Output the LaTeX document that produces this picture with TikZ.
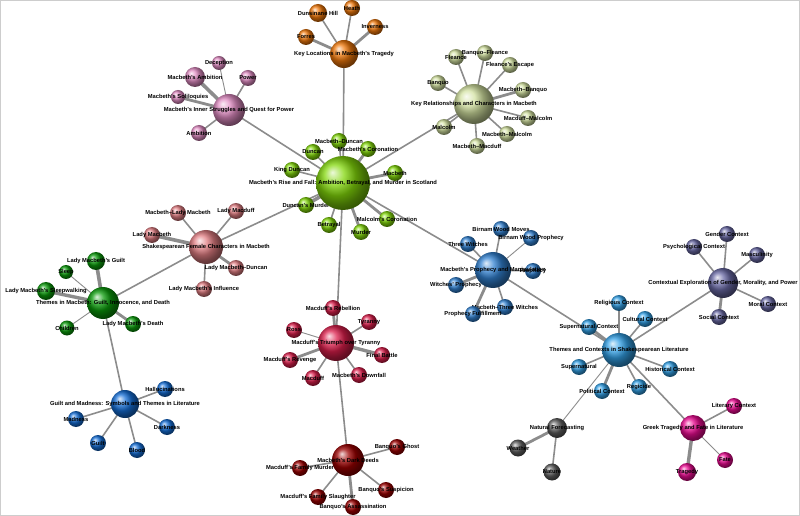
\documentclass[tikz,border=0pt]{standalone}
\usepackage{fontspec}
\setmainfont{Liberation Sans}
\usepackage{tikz}
\usetikzlibrary{backgrounds}
\definecolor{linkgray}{RGB}{140, 140, 140}
\definecolor{framegray}{RGB}{205, 205, 205}
\definecolor{locorange}{RGB}{240, 120, 10}
\definecolor{innerpink}{RGB}{225, 140, 195}
\definecolor{relolive}{RGB}{210, 225, 160}
\definecolor{risegreen}{RGB}{130, 215, 10}
\definecolor{femrose}{RGB}{225, 125, 130}
\definecolor{themegreen}{RGB}{10, 155, 10}
\definecolor{guiltblue}{RGB}{20, 110, 215}
\definecolor{triumphred}{RGB}{220, 30, 75}
\definecolor{deedsred}{RGB}{155, 0, 0}
\definecolor{prophblue}{RGB}{50, 130, 210}
\definecolor{ctxblue}{RGB}{50, 160, 230}
\definecolor{genderpurple}{RGB}{105, 105, 165}
\definecolor{forecastgray}{RGB}{95, 95, 95}
\definecolor{greekmagenta}{RGB}{235, 10, 145}

\begin{document}
\begin{tikzpicture}[x=1bp, y=-1bp,
    orb/.style={circle, inner sep=0pt, shading=ball, ball color=#1,
                minimum size=16bp},
    lab/.style={label={center:{#1}}},
    every label/.style={font=\bfseries\fontsize{5.8}{6.5}\selectfont,
                        inner sep=0pt},
    tie/.style={draw=linkgray, line width=1.6bp},
    tiethin/.style={tie, line width=0.9bp},
    tiethick/.style={tie, line width=2.8bp}]

    \useasboundingbox (0,0) rectangle (800,516);
    \draw[framegray, line width=1.5bp] (0,0) rectangle (800,516);

    % Key locations
    \node[orb=locorange, lab={Forres}]          (forres)    at (306,37) {};
    \node[orb=locorange, lab={Dunsinane Hill}, minimum size=18bp]
                                                (dunsinane) at (318,13) {};
    \node[orb=locorange, lab={Heath}]           (heath)     at (352,8)  {};
    \node[orb=locorange, lab={Inverness}]       (inverness) at (375,27) {};
    \node[orb=locorange, lab={Key Locations in Macbeth's Tragedy},
          minimum size=28bp]                    (loc)       at (344,54) {};

    % Inner struggles
    \node[orb=innerpink, lab={Deception}, minimum size=14bp]
                                                (deception) at (219,63) {};
    \node[orb=innerpink, lab={Macbeth's Ambition}, minimum size=20bp]
                                                (ambitionM) at (195,77) {};
    \node[orb=innerpink, lab={Power}]           (power)     at (248,78) {};
    \node[orb=innerpink, lab={Macbeth's Soliloquies}, minimum size=14bp]
                                                (soliloq)   at (178,97) {};
    \node[orb=innerpink, lab={Ambition}]        (ambition)  at (199,133) {};
    \node[orb=innerpink, lab={Macbeth's Inner Struggles and Quest for Power},
          minimum size=32bp]                    (inner)     at (229,110) {};

    % Relationships
    \node[orb=relolive, lab={Fleance}]          (fleance)   at (456,57) {};
    \node[orb=relolive, lab={Banquo--Fleance}]  (banfle)    at (485,53) {};
    \node[orb=relolive, lab={Fleance's Escape}] (fleesc)    at (510,65) {};
    \node[orb=relolive, lab={Banquo}]           (banquo)    at (438,83) {};
    \node[orb=relolive, lab={Macbeth--Banquo}]  (macban)    at (523,90) {};
    \node[orb=relolive, lab={Macduff--Malcolm}] (macmal)    at (528,118) {};
    \node[orb=relolive, lab={Macbeth--Malcolm}] (macbmal)   at (507,134) {};
    \node[orb=relolive, lab={Macbeth--Macduff}] (macmac)    at (477,146) {};
    \node[orb=relolive, lab={Malcolm}]          (malcolm)   at (444,127) {};
    \node[orb=relolive, lab={Key Relationships and Characters in Macbeth},
          minimum size=40bp]                    (rel)       at (474,104) {};

    % Rise and fall
    \node[orb=risegreen, lab={Macbeth--Duncan}]      (macdun)    at (339,141) {};
    \node[orb=risegreen, lab={Duncan}]               (duncan)    at (313,152) {};
    \node[orb=risegreen, lab={Macbeth's Coronation}] (coron)     at (368,149) {};
    \node[orb=risegreen, lab={King Duncan}]          (kingdun)   at (292,170) {};
    \node[orb=risegreen, lab={Macbeth}]              (macbeth)   at (395,173) {};
    \node[orb=risegreen, lab={Duncan's Murder}]      (dunmurder) at (306,205) {};
    \node[orb=risegreen, lab={Betrayal}]             (betrayal)  at (329,225) {};
    \node[orb=risegreen, lab={Murder}]               (murder)    at (361,232) {};
    \node[orb=risegreen, lab={Malcolm's Coronation}] (malcoron)  at (387,219) {};
    \node[orb=risegreen,
          lab={Macbeth's Rise and Fall: Ambition, Betrayal, and Murder in Scotland},
          minimum size=54bp]                         (rise)      at (343,183) {};

    % Female characters
    \node[orb=femrose, lab={Macbeth--Lady Macbeth}]   (macladym)  at (178,213) {};
    \node[orb=femrose, lab={Lady Macduff}]            (ladymacd)  at (236,211) {};
    \node[orb=femrose, lab={Lady Macbeth}]            (ladym)     at (152,235) {};
    \node[orb=femrose, lab={Lady Macbeth--Duncan}]    (ladymdun)  at (236,268) {};
    \node[orb=femrose, lab={Lady Macbeth's Influence}](influence) at (204,289) {};
    \node[orb=femrose, lab={Shakespearean Female Characters in Macbeth},
          minimum size=34bp]                          (fem)       at (206,247) {};

    % Guilt, innocence, death
    \node[orb=themegreen, lab={Lady Macbeth's Guilt}, minimum size=18bp]
                                                      (lmguilt)   at (96,261) {};
    \node[orb=themegreen, lab={Sleep}, minimum size=14bp]
                                                      (sleep)     at (66,272) {};
    \node[orb=themegreen, lab={Lady Macbeth's Sleepwalking}, minimum size=18bp]
                                                      (sleepwalk) at (46,291) {};
    \node[orb=themegreen, lab={Children}, minimum size=15bp]
                                                      (children)  at (67,328) {};
    \node[orb=themegreen, lab={Lady Macbeth's Death}] (lmdeath)   at (133,324) {};
    \node[orb=themegreen, lab={Themes in Macbeth: Guilt, Innocence, and Death},
          minimum size=32bp]                          (themes)    at (103,303) {};

    % Guilt and madness
    \node[orb=guiltblue, lab={Hallucinations}] (halluc)   at (165,389) {};
    \node[orb=guiltblue, lab={Madness}]        (madn)     at (76,419) {};
    \node[orb=guiltblue, lab={Guilt}]          (guiltn)   at (98,443) {};
    \node[orb=guiltblue, lab={Blood}]          (blood)    at (137,450) {};
    \node[orb=guiltblue, lab={Darkness}]       (darkness) at (167,427) {};
    \node[orb=guiltblue, lab={Guilt and Madness: Symbols and Themes in Literature},
          minimum size=28bp]                   (madness)  at (125,404) {};

    % Triumph over tyranny
    \node[orb=triumphred, lab={Macduff's Rebellion}] (rebellion) at (333,308) {};
    \node[orb=triumphred, lab={Tyranny}]             (tyranny)   at (369,322) {};
    \node[orb=triumphred, lab={Ross}]                (ross)      at (294,330) {};
    \node[orb=triumphred, lab={Final Battle}]        (battle)    at (382,355) {};
    \node[orb=triumphred, lab={Macduff's Revenge}]   (revenge)   at (290,360) {};
    \node[orb=triumphred, lab={Macduff}]             (macduff)   at (313,378) {};
    \node[orb=triumphred, lab={Macbeth's Downfall}]  (downfall)  at (359,375) {};
    \node[orb=triumphred, lab={Macduff's Triumph over Tyranny},
          minimum size=36bp]                         (triumph)   at (336,343) {};

    % Dark deeds
    \node[orb=deedsred, lab={Banquo's Ghost}]            (ghost)     at (397,447) {};
    \node[orb=deedsred, lab={Macduff's Family Murder}]   (famurder)  at (300,468) {};
    \node[orb=deedsred, lab={Banquo's Suspicion}]        (suspicion) at (386,490) {};
    \node[orb=deedsred, lab={Macduff's Family Slaughter}](slaughter) at (318,497) {};
    \node[orb=deedsred, lab={Banquo's Assassination}]    (assassin)  at (353,507) {};
    \node[orb=deedsred, lab={Macbeth's Dark Deeds}, minimum size=32bp]
                                                         (deeds)     at (348,460) {};

    % Prophecy
    \node[orb=prophblue, lab={Birnam Wood Moves}]     (birnam)   at (501,229) {};
    \node[orb=prophblue, lab={Birnam Wood Prophecy}]  (birnamp)  at (531,238) {};
    \node[orb=prophblue, lab={Three Witches}]         (witches)  at (468,244) {};
    \node[orb=prophblue, lab={Prophecy}]              (prophecy) at (533,271) {};
    \node[orb=prophblue, lab={Witches' Prophecy}]     (wproph)   at (456,285) {};
    \node[orb=prophblue, lab={Macbeth--Three Witches}](macwitch) at (505,307) {};
    \node[orb=prophblue, lab={Prophecy Fulfillment}]  (fulfil)   at (473,314) {};
    \node[orb=prophblue, lab={Macbeth's Prophecy and Manipulation},
          minimum size=36bp]                          (proph)    at (493,270) {};

    % Contexts
    \node[orb=ctxblue, lab={Religious Context}]    (religious)  at (619,303) {};
    \node[orb=ctxblue, lab={Cultural Context}]     (cultural)   at (645,319) {};
    \node[orb=ctxblue, lab={Supernatural Context}] (supctx)     at (589,327) {};
    \node[orb=ctxblue, lab={Supernatural}]         (supern)     at (579,367) {};
    \node[orb=ctxblue, lab={Historical Context}]   (historical) at (670,369) {};
    \node[orb=ctxblue, lab={Regicide}]             (regicide)   at (639,387) {};
    \node[orb=ctxblue, lab={Political Context}]    (political)  at (602,391) {};
    \node[orb=ctxblue, lab={Themes and Contexts in Shakespearean Literature},
          minimum size=34bp]                       (ctx)        at (619,350) {};

    % Gender, morality, power
    \node[orb=genderpurple, lab={Gender Context}]        (genderctx) at (727,234) {};
    \node[orb=genderpurple, lab={Psychological Context}] (psych)     at (694,247) {};
    \node[orb=genderpurple, lab={Masculinity}]           (masc)      at (757,255) {};
    \node[orb=genderpurple, lab={Moral Context}]         (moral)     at (768,304) {};
    \node[orb=genderpurple, lab={Social Context}]        (social)    at (719,317) {};
    \node[orb=genderpurple,
          lab={Contextual Exploration of Gender, Morality, and Power},
          minimum size=30bp]                             (gender)    at (723,283) {};

    % Forecasting
    \node[orb=forecastgray, lab={Weather}, minimum size=17bp] (weather)  at (518,448) {};
    \node[orb=forecastgray, lab={Nature}, minimum size=17bp]  (nature)   at (552,472) {};
    \node[orb=forecastgray, lab={Natural Forecasting}, minimum size=20bp]
                                                              (forecast) at (557,428) {};

    % Greek tragedy
    \node[orb=greekmagenta, lab={Literary Context}]          (literary) at (734,406) {};
    \node[orb=greekmagenta, lab={Fate}]                      (fate)     at (725,460) {};
    \node[orb=greekmagenta, lab={Tragedy}, minimum size=18bp](tragedy)  at (687,472) {};
    \node[orb=greekmagenta, lab={Greek Tragedy and Fate in Literature},
          minimum size=26bp]                                 (greek)    at (693,428) {};

    \begin{scope}[on background layer]
    % Links between hubs
    \draw[tie] (loc.center) -- (rise.center);
    \draw[tie] (inner.center) -- (rise.center);
    \draw[tie] (rel.center) -- (rise.center);
    \draw[tie] (fem.center) -- (rise.center);
    \draw[tie] (fem.center) -- (themes.center);
    \draw[tie] (themes.center) -- (madness.center);
    \draw[tie] (rise.center) -- (triumph.center);
    \draw[tie] (triumph.center) -- (deeds.center);
    \draw[tie] (rise.center) -- (proph.center);
    \draw[tie] (proph.center) -- (ctx.center);
    \draw[tie] (ctx.center) -- (gender.center);
    \draw[tiethin] (ctx.center) -- (forecast.center);
    \draw[tie] (ctx.center) -- (greek.center);

    % Spokes
    \draw[tiethick] (loc.center) -- (forres.center);
    \draw[tie] (loc.center) -- (dunsinane.center);
    \draw[tie] (loc.center) -- (heath.center);
    \draw[tiethick] (loc.center) -- (inverness.center);

    \draw[tiethin] (inner.center) -- (deception.center);
    \draw[tiethick, line width=3.6bp] (inner.center) -- (ambitionM.center);
    \draw[tie] (inner.center) -- (power.center);
    \draw[tiethick] (inner.center) -- (soliloq.center);
    \draw[tie] (inner.center) -- (ambition.center);

    \draw[tie] (rel.center) -- (fleance.center);
    \draw[tie] (rel.center) -- (banfle.center);
    \draw[tie] (rel.center) -- (fleesc.center);
    \draw[tie] (rel.center) -- (banquo.center);
    \draw[tiethick] (rel.center) -- (macban.center);
    \draw[tie] (rel.center) -- (macmal.center);
    \draw[tie] (rel.center) -- (macbmal.center);
    \draw[tie] (rel.center) -- (macmac.center);
    \draw[tie] (rel.center) -- (malcolm.center);

    \draw[tie] (rise.center) -- (macdun.center);
    \draw[tie] (rise.center) -- (duncan.center);
    \draw[tiethick] (rise.center) -- (coron.center);
    \draw[tie] (rise.center) -- (kingdun.center);
    \draw[tiethick] (rise.center) -- (macbeth.center);
    \draw[tiethick, line width=3.6bp] (rise.center) -- (dunmurder.center);
    \draw[tie] (rise.center) -- (betrayal.center);
    \draw[tiethick] (rise.center) -- (murder.center);
    \draw[tiethick] (rise.center) -- (malcoron.center);

    \draw[tie] (fem.center) -- (macladym.center);
    \draw[tie] (fem.center) -- (ladymacd.center);
    \draw[tiethick, line width=3.6bp] (fem.center) -- (ladym.center);
    \draw[tiethick] (fem.center) -- (ladymdun.center);
    \draw[tie] (fem.center) -- (influence.center);

    \draw[tiethick, line width=3.6bp] (themes.center) -- (lmguilt.center);
    \draw[tiethin] (themes.center) -- (sleep.center);
    \draw[tiethick, line width=3.4bp] (themes.center) -- (sleepwalk.center);
    \draw[tiethin] (themes.center) -- (children.center);
    \draw[tiethick] (themes.center) -- (lmdeath.center);

    \draw[tie] (madness.center) -- (halluc.center);
    \draw[tie] (madness.center) -- (madn.center);
    \draw[tie] (madness.center) -- (guiltn.center);
    \draw[tie] (madness.center) -- (blood.center);
    \draw[tie] (madness.center) -- (darkness.center);

    \draw[tiethick] (triumph.center) -- (rebellion.center);
    \draw[tie] (triumph.center) -- (tyranny.center);
    \draw[tiethin] (triumph.center) -- (ross.center);
    \draw[tiethick, line width=3.4bp] (triumph.center) -- (battle.center);
    \draw[tiethick] (triumph.center) -- (revenge.center);
    \draw[tie] (triumph.center) -- (macduff.center);
    \draw[tie] (triumph.center) -- (downfall.center);

    \draw[tie] (deeds.center) -- (ghost.center);
    \draw[tie] (deeds.center) -- (famurder.center);
    \draw[tie] (deeds.center) -- (suspicion.center);
    \draw[tie] (deeds.center) -- (slaughter.center);
    \draw[tiethick] (deeds.center) -- (assassin.center);

    \draw[tie] (proph.center) -- (birnam.center);
    \draw[tiethin] (proph.center) -- (birnamp.center);
    \draw[tie] (proph.center) -- (witches.center);
    \draw[tie] (proph.center) -- (prophecy.center);
    \draw[tiethick] (proph.center) -- (wproph.center);
    \draw[tie] (proph.center) -- (macwitch.center);
    \draw[tiethick] (proph.center) -- (fulfil.center);

    \draw[tie] (ctx.center) -- (religious.center);
    \draw[tie] (ctx.center) -- (cultural.center);
    \draw[tiethick] (ctx.center) -- (supctx.center);
    \draw[tie] (ctx.center) -- (supern.center);
    \draw[tie] (ctx.center) -- (historical.center);
    \draw[tie] (ctx.center) -- (regicide.center);
    \draw[tiethick] (ctx.center) -- (political.center);

    \draw[tie] (gender.center) -- (genderctx.center);
    \draw[tie] (gender.center) -- (psych.center);
    \draw[tie] (gender.center) -- (masc.center);
    \draw[tie] (gender.center) -- (moral.center);
    \draw[tiethick] (gender.center) -- (social.center);

    \draw[tiethick] (forecast.center) -- (weather.center);
    \draw[tie] (forecast.center) -- (nature.center);

    \draw[tie] (greek.center) -- (literary.center);
    \draw[tiethin] (greek.center) -- (fate.center);
    \draw[tiethick, line width=3.4bp] (greek.center) -- (tragedy.center);
    \end{scope}

\end{tikzpicture}
\end{document}
